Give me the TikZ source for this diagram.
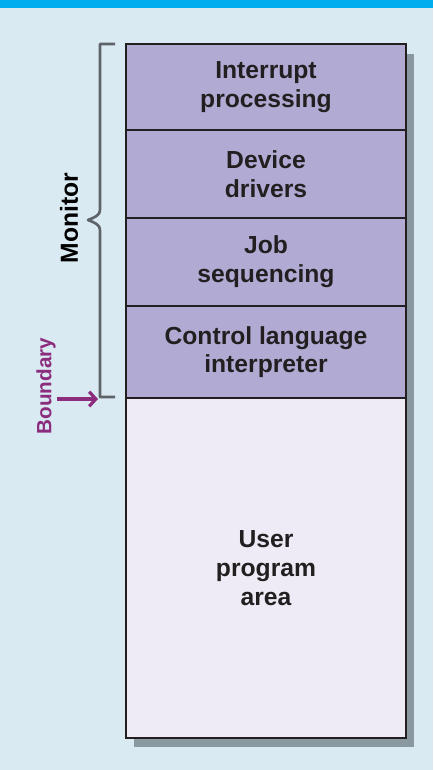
\documentclass[tikz,border=0pt]{standalone}
\usepackage{fontspec}
\setmainfont{Liberation Sans}
\usetikzlibrary{arrows.meta,positioning,backgrounds}
\definecolor{mnBack}{HTML}{DAEAF3}
\definecolor{mnBar}{HTML}{00AEEF}
\definecolor{mnCell}{HTML}{B1ABD4}
\definecolor{mnUser}{HTML}{EEEBF6}
\definecolor{mnEdge}{HTML}{231F20}
\definecolor{mnShadow}{HTML}{8A999F}
\definecolor{mnBrace}{HTML}{5D6469}
\definecolor{mnBound}{HTML}{8B2C7D}
\tikzset{
  cell/.style={
    draw=mnEdge, line width=1.6pt, fill=mnCell, minimum width=210pt,
    outer sep=0pt, inner sep=0pt, align=center, text=mnEdge,
    font=\fontsize{18.5}{21.5}\selectfont\bfseries
  },
  usercell/.style={cell, fill=mnUser},
  sidelabel/.style={rotate=90, font=\fontsize{18.5}{20}\selectfont\bfseries},
  brace/.style={mnBrace, line width=2pt, line join=round},
  boundarrow/.style={-{Straight Barb[length=5pt,width=11pt]}, line width=2.4pt, mnBound}
}
\begin{document}
\begin{tikzpicture}[x=0.75pt, y=-0.75pt, node distance=0pt]
  % memory layout, monitor on top
  \node[cell, minimum height=64.5pt, anchor=north west] (intr) at (126,44) {Interrupt\\processing};
  \node[cell, minimum height=66pt, below=of intr] (drv) {Device\\drivers};
  \node[cell, minimum height=66pt, below=of drv] (job) {Job\\sequencing};
  \node[cell, minimum height=69pt, below=of job] (cli) {Control language\\interpreter};
  \node[usercell, minimum height=255pt, below=of cli] (user) {User\\program\\area};

  % brace for the monitor part
  \draw[brace] (115,44) -- (100,44) -- (100,209)
    .. controls (100,216) and (95,217) .. (88,220)
    .. controls (95,223) and (100,224) .. (100,231) -- (100,397) -- (115,397);
  \node[sidelabel, text=black] (mon) at (69,218) {Monitor};

  % boundary marker
  \node[sidelabel, text=mnBound, font=\fontsize{15.5}{18}\selectfont\bfseries] (bnd) at (46,386) {Boundary};
  \coordinate (bstart) at (57,399);
  \coordinate (bend) at (98,399);
  \draw[boundarrow] (bstart) -- (bend);

  \begin{scope}[on background layer]
    \fill[mnBack] (0,0) rectangle (433,770);
    \fill[mnBar] (0,0) rectangle (433,8);
    \fill[mnShadow] ([shift={(8,10)}]intr.north west) rectangle ([shift={(8,9)}]user.south east);
  \end{scope}
\end{tikzpicture}
\end{document}
